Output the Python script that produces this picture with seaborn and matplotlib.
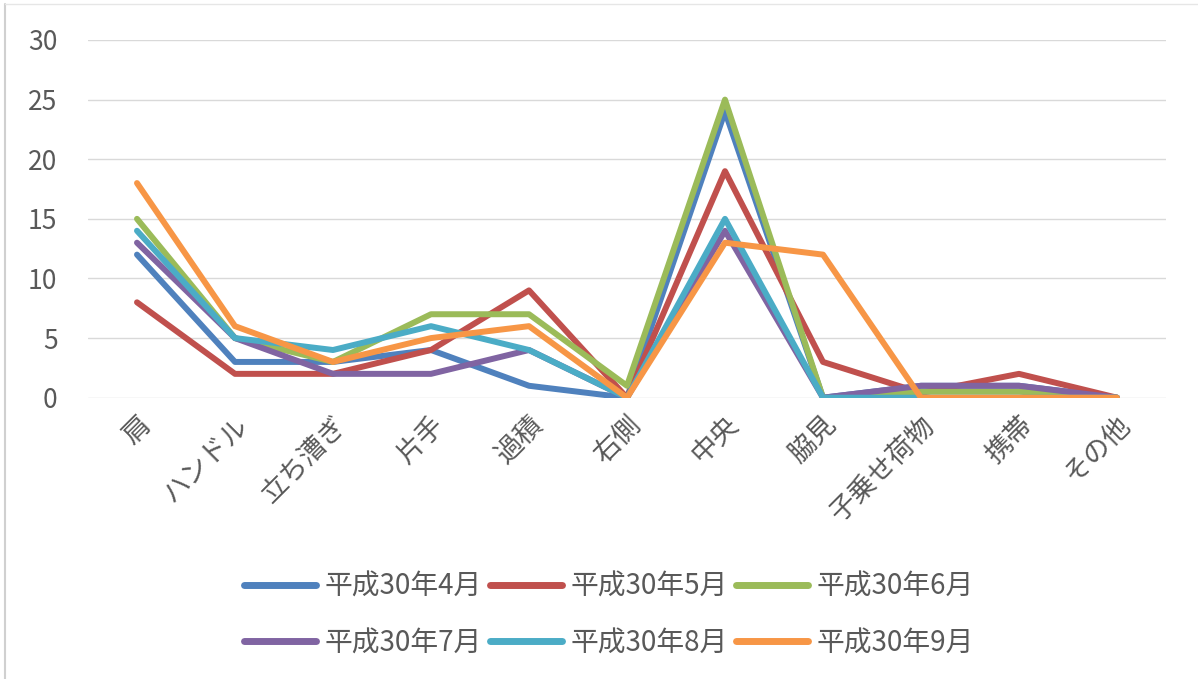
import matplotlib
matplotlib.use("Agg")
import matplotlib.pyplot as plt
import seaborn as sns
import pandas as pd
from matplotlib.lines import Line2D

# Violation categories along the x axis
categories = ["肩", "ハンドル", "立ち漕ぎ", "片手", "過積", "右側",
              "中央", "脇見", "子乗せ荷物", "携帯", "その他"]

# Monthly counts per category
h30_04 = [12, 3, 3, 4, 1, 0, 24, 0, 1, 1, 0]
h30_05 = [8, 2, 2, 4, 9, 0, 19, 3, 0.4, 2, 0]
h30_06 = [15, 5, 3, 7, 7, 1, 25, 0, 0.5, 0.5, 0]
h30_07 = [13, 5, 2, 2, 4, 0, 14, 0, 1, 1, 0]
h30_08 = [14, 5, 4, 6, 4, 0, 15, 0, 0, 0, 0]
h30_09 = [18, 6, 3, 5, 6, 0, 13, 12, 0, 0, 0]

series_names = ["平成30年4月", "平成30年5月", "平成30年6月",
                "平成30年7月", "平成30年8月", "平成30年9月"]
series_values = [h30_04, h30_05, h30_06, h30_07, h30_08, h30_09]
colors = ["#4F81BD", "#C0504D", "#9BBB59", "#8064A2", "#4BACC6", "#F79646"]

y_ticks = [0, 5, 10, 15, 20, 25, 30]

rows = []
for name, vals in zip(series_names, series_values):
    for i, v in enumerate(vals):
        rows.append({"idx": i, "category": categories[i], "value": v, "month": name})
df = pd.DataFrame(rows)

sns.set_theme(style="white")
plt.rcParams["font.family"] = ["Noto Sans CJK JP", "DejaVu Sans"]

fig = plt.figure(figsize=(11.98, 6.79), dpi=100)
fig.patch.set_facecolor("white")
ax = fig.add_axes([88 / 1198, 1 - 397.7 / 679, 1078 / 1198, 357.7 / 679])

sns.lineplot(data=df, x="idx", y="value", hue="month", hue_order=series_names,
             palette=colors, linewidth=4.3, ax=ax, legend=False, sort=False,
             solid_capstyle="round", solid_joinstyle="round")

ax.set_xlim(-0.5, len(categories) - 0.5)
ax.set_ylim(0, 30)
ax.set_yticks(y_ticks)
ax.set_yticklabels([str(t) for t in y_ticks])
ax.set_xticks(range(len(categories)))
ax.set_xticklabels(categories, rotation=45, ha="right", va="top",
                   rotation_mode="anchor")
ax.set_xlabel("")
ax.set_ylabel("")

ax.grid(axis="y", color="#D9D9D9", linewidth=1.0)
ax.grid(axis="x", visible=False)
ax.set_axisbelow(True)
for s in ax.spines.values():
    s.set_visible(False)
ax.tick_params(axis="y", length=0, pad=22, labelsize=19, labelcolor="#595959")
ax.tick_params(axis="x", length=0, pad=10, labelsize=19.5, labelcolor="#595959")

# legend filled row by row: 4,5,6 on top, 7,8,9 below
order = [0, 3, 1, 4, 2, 5]
handles = [Line2D([0], [0], color=colors[k], linewidth=5, solid_capstyle="round")
           for k in order]
labels = [series_names[k] for k in order]
fig.legend(handles, labels, loc="center", ncol=3,
           bbox_to_anchor=(609 / 1198, 1 - 615 / 679), frameon=False,
           fontsize=20, labelcolor="#595959", handlelength=2.6,
           handletextpad=0.3, columnspacing=0.3, labelspacing=0.95)

# chart frame edges
fig.add_artist(Line2D([5 / 1198, 5 / 1198], [0, 1 - 4 / 679], color="#D0D0D0",
                      linewidth=1.5, transform=fig.transFigure))
fig.add_artist(Line2D([5 / 1198, 1], [1 - 4 / 679, 1 - 4 / 679], color="#E6E6E6",
                      linewidth=1.0, transform=fig.transFigure))

fig.savefig("out.png", dpi=100, facecolor="white")
